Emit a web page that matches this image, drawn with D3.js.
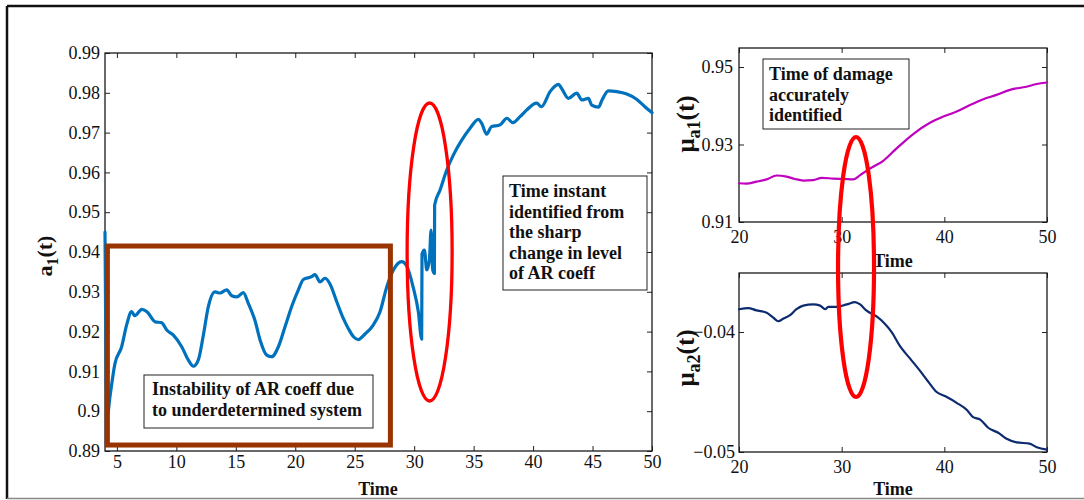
<!DOCTYPE html>
<html>
<head>
<meta charset="utf-8">
<script src="https://cdn.jsdelivr.net/npm/d3@7"></script>
<style>
body { margin: 0; background: #fff; }
text { font-family: "Liberation Serif", "Times New Roman", serif; fill: #111; }
.tick line { stroke: #222; }
</style>
</head>
<body>
<svg id="fig" width="1084" height="500"></svg>
<script>
// a1(t) - AR coefficient over time (left panel)
var a1Time = [4.0, 4.05, 4.12, 4.2, 4.42, 4.84, 5.4, 5.82, 6.24, 6.5, 7.1, 7.53, 8.2, 8.77, 9.19, 9.75,
  10.45, 11.0, 11.43, 11.85, 12.27, 12.69, 13.25, 13.67, 14.24, 14.66, 15.08, 15.63, 16.05, 16.6, 17.04,
  17.6, 18.02, 18.58, 19.14, 19.7, 20.26, 20.68, 21.38, 21.66, 22.08, 22.5, 22.9, 23.49, 24.04, 24.46,
  24.9, 25.3, 25.87, 26.57, 27.13, 27.7, 28.25, 28.95, 29.37, 29.93, 30.35, 30.63, 30.66, 30.86, 31.06,
  31.28, 31.42, 31.56, 31.7, 31.72, 32.18, 32.74, 33.3, 34.0, 34.7, 35.4, 35.68, 36.1, 36.5, 37.2, 37.8,
  38.3, 38.9, 39.47, 40.3, 40.7, 41.43, 42.13, 42.4, 42.97, 43.67, 44.1, 44.65, 44.93, 45.5, 45.8, 46.33,
  47.04, 47.88, 48.7, 49.4, 50.0];
var a1Value = [0.945, 0.925, 0.905, 0.899, 0.9037, 0.912, 0.9162, 0.9217, 0.925, 0.924, 0.9256, 0.925,
  0.9225, 0.9222, 0.9204, 0.9191, 0.9162, 0.9129, 0.9113, 0.9129, 0.9191, 0.9263, 0.930, 0.9297, 0.9305,
  0.929, 0.9287, 0.9298, 0.9271, 0.9229, 0.9179, 0.9141, 0.9137, 0.9162, 0.9212, 0.9263, 0.9305, 0.9331,
  0.9338, 0.9343, 0.9325, 0.9334, 0.9321, 0.9275, 0.9233, 0.9208, 0.9187, 0.918, 0.9194, 0.9217, 0.925,
  0.9313, 0.9355, 0.9376, 0.9365, 0.931, 0.925, 0.9181, 0.9395, 0.9405, 0.9355, 0.938, 0.9455, 0.9355,
  0.9346, 0.9518, 0.9556, 0.9606, 0.9644, 0.9681, 0.9711, 0.9733, 0.9723, 0.9696, 0.9715, 0.9719, 0.9736,
  0.9725, 0.974, 0.9757, 0.9774, 0.9765, 0.9803, 0.9821, 0.9811, 0.9786, 0.9799, 0.9782, 0.9786, 0.9769,
  0.9764, 0.9782, 0.9805, 0.9803, 0.9797, 0.9784, 0.9765, 0.975];

// mu_a1(t) (top right panel)
var mu1Time = [20, 20.7, 21.72, 22.7, 23.67, 24.64, 25.45, 26.26, 27.24, 28.05, 29.19, 30.3, 31.13, 31.8,
  32.76, 34.05, 35.35, 36.97, 38.6, 39.9, 41.2, 42.5, 43.8, 45.09, 46.4, 48.0, 49.0, 50];
var mu1Value = [0.920, 0.9199, 0.9204, 0.921, 0.922, 0.9217, 0.9211, 0.9207, 0.9208, 0.9214, 0.9212,
  0.9211, 0.921, 0.9221, 0.9238, 0.9258, 0.929, 0.9327, 0.9356, 0.9372, 0.9385, 0.9402, 0.9417, 0.9428,
  0.9441, 0.9449, 0.9456, 0.946];

// mu_a2(t) (bottom right panel)
var mu2Time = [20, 20.9, 21.7, 22.7, 23.34, 23.83, 24.3, 24.97, 25.6, 26.26, 27.24, 27.9, 28.4, 28.7,
  29.5, 30.5, 31.3, 31.8, 32.4, 33.4, 34.2, 34.87, 35.7, 36.65, 37.6, 38.4, 39.25, 40.2, 41.2, 42.2,
  42.8, 43.5, 44.3, 45.25, 46.07, 47.04, 48.3, 49.0, 50];
var mu2Value = [-0.0381, -0.038, -0.0382, -0.0384, -0.0388, -0.0391, -0.0389, -0.0386, -0.0381, -0.0378,
  -0.0377, -0.0378, -0.0381, -0.0379, -0.0379, -0.0377, -0.0375, -0.0377, -0.0382, -0.0387, -0.0393,
  -0.04, -0.0412, -0.0422, -0.0432, -0.0441, -0.045, -0.0454, -0.0459, -0.0465, -0.0471, -0.0473,
  -0.048, -0.0484, -0.0489, -0.0492, -0.0493, -0.0496, -0.0498];

// tick values
var leftXTicks = [5, 10, 15, 20, 25, 30, 35, 40, 45, 50];
var leftYTicks = [0.89, 0.90, 0.91, 0.92, 0.93, 0.94, 0.95, 0.96, 0.97, 0.98, 0.99];
var rightXTicks = [20, 30, 40, 50];
var mu1YTicks = [0.91, 0.93, 0.95];
var mu2YTicks = [-0.05, -0.04];

var svg = d3.select("#fig");

// outer frame of the figure
svg.append("line").attr("x1", 7).attr("x2", 1084).attr("y1", 6).attr("y2", 6)
  .attr("stroke", "#111").attr("stroke-width", 2.5);
svg.append("line").attr("x1", 7).attr("x2", 7).attr("y1", 6).attr("y2", 499)
  .attr("stroke", "#111").attr("stroke-width", 2.5);
svg.append("line").attr("x1", 7).attr("x2", 1084).attr("y1", 498.5).attr("y2", 498.5)
  .attr("stroke", "#888").attr("stroke-width", 1.5);

// draws a MATLAB-like box axis with ticks pointing inward on all sides
function panel(x, y, xTicks, yTicks, yFmt, xPad, yPad) {
  var r = x.range(), h = y.range();
  var g = svg.append("g");
  g.append("g").attr("transform", "translate(0," + h[0] + ")")
    .call(d3.axisBottom(x).tickValues(xTicks).tickSize(-5).tickPadding(xPad).tickFormat(d3.format("d")))
    .call(s => s.select(".domain").remove());
  g.append("g").attr("transform", "translate(0," + h[1] + ")")
    .call(d3.axisTop(x).tickValues(xTicks).tickSize(-5).tickFormat(""))
    .call(s => s.select(".domain").remove());
  g.append("g").attr("transform", "translate(" + r[0] + ",0)")
    .call(d3.axisLeft(y).tickValues(yTicks).tickSize(-5).tickPadding(yPad).tickFormat(yFmt))
    .call(s => s.select(".domain").remove());
  g.append("g").attr("transform", "translate(" + r[1] + ",0)")
    .call(d3.axisRight(y).tickValues(yTicks).tickSize(-5).tickFormat(""))
    .call(s => s.select(".domain").remove());
  g.selectAll("g").attr("font-family", null);
  g.selectAll(".tick text").attr("font-size", 18).attr("fill", "#111");
  g.append("rect").attr("x", r[0]).attr("y", h[1]).attr("width", r[1] - r[0]).attr("height", h[0] - h[1])
    .attr("fill", "none").attr("stroke", "#1a1a1a").attr("stroke-width", 1.3);
  return g;
}

function drawLine(x, y, ts, vs, color, width) {
  var pts = ts.map((t, i) => [t, vs[i]]);
  svg.append("path").datum(pts)
    .attr("fill", "none").attr("stroke", color).attr("stroke-width", width)
    .attr("stroke-linejoin", "round").attr("stroke-linecap", "round")
    .attr("d", d3.line().curve(d3.curveMonotoneX).x(d => x(d[0])).y(d => y(d[1])));
}

function textBox(x0, y0, w, h, lines, tx, ty, dy) {
  svg.append("rect").attr("x", x0).attr("y", y0).attr("width", w).attr("height", h)
    .attr("fill", "#fff").attr("stroke", "#222").attr("stroke-width", 1);
  var t = svg.append("text").attr("font-size", 18).attr("font-weight", "bold");
  lines.forEach((l, i) => t.append("tspan").attr("x", tx).attr("y", ty + i * dy).text(l));
}

function yLabel(cx, cy, main, sub, size) {
  var t = svg.append("text").attr("transform", "translate(" + cx + "," + cy + ") rotate(-90)")
    .attr("text-anchor", "middle").attr("font-weight", "bold").attr("font-size", size);
  t.append("tspan").text(main[0]);
  t.append("tspan").attr("font-size", size * 0.72).attr("dy", size * 0.25).text(sub);
  t.append("tspan").attr("dy", -size * 0.25).text(main[1]);
}

function xLabel(cx, y) {
  svg.append("text").attr("x", cx).attr("y", y).attr("text-anchor", "middle")
    .attr("font-weight", "bold").attr("font-size", 18).text("Time");
}

// ---- left panel ----
var xL = d3.scaleLinear().domain([4, 50]).range([105, 652]);
var yL = d3.scaleLinear().domain([0.89, 0.99]).range([451, 53]);
panel(xL, yL, leftXTicks, leftYTicks, d3.format(".2~f"), 4, 5);
drawLine(xL, yL, a1Time, a1Value, "#0072bd", 3.2);
xLabel(378, 495);
yLabel(52, 256, ["a", "(t)"], "1", 22);

// brown box around the unstable start
svg.append("rect").attr("x", xL(4.2)).attr("y", yL(0.9415))
  .attr("width", xL(28) - xL(4.2)).attr("height", yL(0.8915) - yL(0.9415))
  .attr("fill", "none").attr("stroke", "#993300").attr("stroke-width", 5);
textBox(144, 375, 229, 53, ["Instability of AR coeff due", "to underdetermined system"], 152, 395, 21);
textBox(503, 176, 144, 114, ["Time instant", "identified from", "the sharp", "change in level", "of AR coeff"], 509, 197, 20.5);

svg.append("ellipse").attr("cx", xL(31.3)).attr("cy", yL(0.94)).attr("rx", 22.5).attr("ry", 149)
  .attr("fill", "none").attr("stroke", "#ff0000").attr("stroke-width", 3.3);

// ---- top right panel ----
var xR = d3.scaleLinear().domain([20, 50]).range([739, 1047]);
var yT = d3.scaleLinear().domain([0.91, 0.9549]).range([222, 48]);
panel(xR, yT, rightXTicks, mu1YTicks, d3.format(".2f"), 8, 6);
drawLine(xR, yT, mu1Time, mu1Value, "#bf00bf", 2.2);
xLabel(893, 267);
yLabel(694, 124, ["\u03bc", "(t)"], "a1", 25);
textBox(763, 59, 146, 70, ["Time of damage", "accurately", "identified"], 769, 80, 20.5);

// ---- bottom right panel ----
var yB = d3.scaleLinear().domain([-0.05, -0.03508]).range([452, 273]);
panel(xR, yB, rightXTicks, mu2YTicks, d3.format(".2f"), 8, 4);
drawLine(xR, yB, mu2Time, mu2Value, "#0c2a6e", 2.2);
xLabel(893, 495);
yLabel(694, 358, ["\u03bc", "(t)"], "a2", 25);

// red ellipse spanning both right panels
svg.append("ellipse").attr("cx", xR(31.4)).attr("cy", 267).attr("rx", 18).attr("ry", 130)
  .attr("fill", "none").attr("stroke", "#ff0000").attr("stroke-width", 4.2);
</script>
</body>
</html>
